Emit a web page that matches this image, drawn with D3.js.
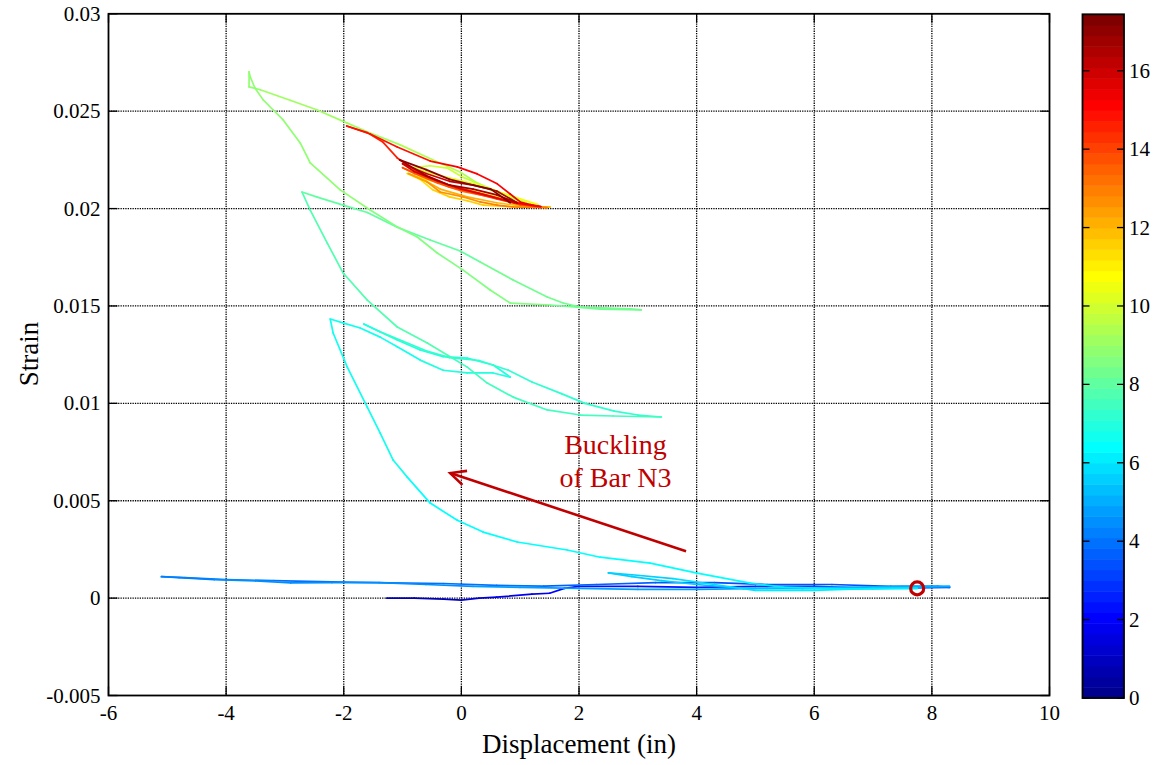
<!DOCTYPE html>
<html><head><meta charset="utf-8">
<script src="https://cdn.jsdelivr.net/npm/d3@7"></script>
<style>body{margin:0;background:#fff}svg{display:block;font-family:"Liberation Serif","Times New Roman",serif}</style>
</head><body><svg id="c" width="1159" height="765"></svg>
<script>
// ---- axes / labels ----
const xTicks = [-6,-4,-2,0,2,4,6,8,10];
const xTickLabels = ["-6","-4","-2","0","2","4","6","8","10"];
const yTicks = [-0.005,0,0.005,0.01,0.015,0.02,0.025,0.03];
const yTickLabels = ["-0.005","0","0.005","0.01","0.015","0.02","0.025","0.03"];
const cTicks = [0,2,4,6,8,10,12,14,16];
const cTickLabels = ["0","2","4","6","8","10","12","14","16"];
const xDomain = [-6,10];
const yDomain = [-0.005,0.03];
const cDomain = [0,17.44];
const xLabel = "Displacement (in)";
const yLabel = "Strain";
const annotLines = ["Buckling","of Bar N3"];
const annotPos = [[2.62,0.0074],[2.62,0.0057]];
const arrowFromTo = [[3.82,0.00241],[-0.19,0.00642]];
const markerPoint = [7.75,0.0005];

// ---- data: [displacement, strain, time] ----
const blueOut = [[-1.27,0.0000,0.5],[-0.8,0.0000,0.7],[-0.3,-0.00005,0.9],[0.0,-0.0001,1.1],[0.3,0.0000,1.3],[0.6,0.00005,1.5],[1.2,0.0002,1.8],[1.5,0.00025,1.9],[1.75,0.0005,2.0],[2.0,0.0006,2.1],[3.0,0.0006,2.3],[4.0,0.00055,2.5],[5.0,0.0006,2.7],[6.0,0.0006,2.85],[7.0,0.0005,2.95],[8.3,0.00055,3.1]];
const blueBack = [[8.1,0.0006,3.15],[7.3,0.0006,3.25],[6.3,0.0007,3.35],[5.2,0.0007,3.45],[4.3,0.0008,3.55],[3.3,0.0008,3.65],[2.3,0.0007,3.75],[1.4,0.00062,3.85],[0.6,0.00065,3.9],[-0.3,0.00075,3.95],[-1.2,0.00078,4.0],[-2.2,0.00083,4.05],[-3.2,0.0009,4.1],[-4.0,0.00095,4.15],[-4.7,0.00105,4.2],[-5.1,0.0011,4.25]];
const blueOut2 = [[-4.8,0.00105,4.3],[-4.2,0.00095,4.35],[-3.5,0.00088,4.4],[-2.9,0.00078,4.45],[-2.2,0.0008,4.5],[-1.4,0.0008,4.55],[-0.6,0.0007,4.6],[0.2,0.0006,4.65],[1.0,0.00055,4.7],[2.0,0.0005,4.75],[3.0,0.00045,4.8],[4.0,0.00045,4.85],[5.2,0.0005,4.9],[6.5,0.00055,4.95],[7.5,0.0006,5.0],[8.3,0.0006,5.05]];
const lightBack = [[7.6,0.00055,5.1],[6.8,0.0005,5.2],[5.8,0.00048,5.3],[4.8,0.0005,5.4],[4.0,0.0007,5.45],[3.4,0.0009,5.5],[2.9,0.0011,5.55],[2.5,0.0013,5.6]];
const lightOut = [[2.9,0.0012,5.65],[3.6,0.0010,5.75],[4.3,0.0007,5.85],[5.0,0.0004,5.95],[6.0,0.0004,6.05],[7.0,0.0005,6.1],[7.75,0.0005,6.15]];
const buckling = [[6.61,0.00046,6.2],[5.47,0.00056,6.25],[4.91,0.00077,6.28],[4.01,0.00128,6.32],[3.21,0.0018,6.35],[2.36,0.0021,6.38],[1.80,0.00247,6.4],[0.95,0.00288,6.43],[0.37,0.00339,6.46],[-0.07,0.0040,6.48],[-0.53,0.00488,6.5],[-0.92,0.00621,6.53],[-1.16,0.00709,6.55],[-1.38,0.00847,6.57],[-1.60,0.0098,6.6],[-1.94,0.01186,6.63],[-2.18,0.01361,6.66],[-2.23,0.01433,6.7]];
const cyanOut = [[-2.0,0.01412,6.72],[-1.72,0.01387,6.74],[-1.38,0.0134,6.76],[-1.09,0.0129,6.78],[-0.70,0.01222,6.8],[-0.31,0.0117,6.83],[0.10,0.01156,6.86],[0.54,0.01156,6.88],[0.83,0.01135,6.9]];
const cyanBack = [[0.54,0.01197,6.93],[0.1,0.01232,6.96],[-0.31,0.0124,6.98],[-0.7,0.01274,7.0],[-1.09,0.01325,7.02],[-1.38,0.01366,7.04],[-1.66,0.01407,7.06]];
const cyanOut2 = [[-1.4,0.0137,7.08],[-1.0,0.0132,7.1],[-0.6,0.0127,7.13],[-0.2,0.01235,7.16],[0.3,0.0122,7.19],[0.8,0.0117,7.22],[1.2,0.0111,7.25],[1.7,0.0105,7.28],[2.1,0.0100,7.3],[2.6,0.0096,7.32],[3.0,0.0094,7.34],[3.4,0.0093,7.36]];
const greenBack = [[2.58,0.00935,7.4],[2.02,0.0094,7.44],[1.46,0.00966,7.48],[0.88,0.01032,7.52],[0.44,0.01104,7.56],[0.10,0.01186,7.6],[-0.24,0.01248,7.63],[-0.58,0.0131,7.66],[-1.09,0.01392,7.7],[-1.60,0.0153,7.75],[-2.01,0.01669,7.8],[-2.28,0.01823,7.84],[-2.57,0.01992,7.88],[-2.71,0.02085,7.9]];
const greenOut = [[-2.45,0.02059,7.94],[-2.01,0.02018,7.98],[-1.6,0.0198,8.02],[-1.09,0.01904,8.06],[-0.53,0.01839,8.1],[-0.02,0.01782,8.14],[0.32,0.01726,8.18],[0.88,0.01633,8.22],[1.46,0.01546,8.26],[1.73,0.01515,8.28],[2.02,0.01494,8.3],[2.87,0.01485,8.34],[3.06,0.0148,8.36]];
const greenBack2 = [[2.36,0.01484,8.4],[1.51,0.01505,8.45],[0.83,0.01515,8.5],[0.49,0.01582,8.53],[0.03,0.01684,8.57],[-0.41,0.01772,8.61],[-0.75,0.01854,8.64],[-1.09,0.01906,8.67],[-1.55,0.01993,8.71],[-2.06,0.02096,8.75],[-2.57,0.02235,8.8],[-2.74,0.02337,8.83],[-3.03,0.02455,8.87],[-3.20,0.02506,8.89],[-3.37,0.02558,8.91],[-3.51,0.02619,8.93],[-3.59,0.02676,8.95],[-3.61,0.02702,8.96],[-3.61,0.02625,8.98]];
const yellowGreenOut = [[-3.42,0.0261,9.0],[-2.9,0.02555,9.05],[-2.46,0.02507,9.1],[-1.95,0.0244,9.15],[-1.6,0.02394,9.2],[-1.04,0.02327,9.26],[-0.48,0.02249,9.32],[-0.02,0.02188,9.38],[0.24,0.02136,9.44],[0.49,0.02095,9.5],[0.8,0.0206,9.56],[1.1,0.0203,9.6]];
const yellowLoop = [[0.6,0.0209,9.7],[0.03,0.0216,9.8],[-0.24,0.02208,9.9],[-0.53,0.0222,9.95],[-0.82,0.0221,10.0],[-0.5,0.0218,10.1],[-0.1,0.0215,10.2],[0.3,0.0212,10.3],[0.7,0.0208,10.4],[1.0,0.0205,10.5],[1.3,0.0202,10.6]];
const orangeLoops = [[1.0,0.0203,10.7],[0.6,0.0206,10.8],[0.2,0.0209,10.9],[-0.2,0.0212,11.0],[-0.6,0.0215,11.1],[-0.92,0.0218,11.2],
  [-0.7,0.0215,11.3],[-0.48,0.02095,11.4],[-0.2,0.0206,11.5],[0.1,0.0204,11.55],[0.37,0.02018,11.6],[0.95,0.02008,11.7],[1.51,0.02008,11.8],
  [1.1,0.0201,11.9],[0.6,0.0203,12.0],[0.1,0.0206,12.1],[-0.36,0.0210,12.2],[-0.6,0.0214,12.3],[-0.9,0.0218,12.4],
  [-0.58,0.02136,12.5],[-0.36,0.02085,12.6],[0.03,0.0206,12.7],[0.32,0.02034,12.8],[0.61,0.02018,12.85],[0.88,0.02008,12.9],[1.46,0.02005,13.0]];
const redLoops = [[1.0,0.0202,13.1],[0.5,0.0206,13.2],[0.0,0.0209,13.3],[-0.4,0.0213,13.4],[-0.8,0.0218,13.5],[-1.0,0.0221,13.6],
  [-0.6,0.0216,13.7],[-0.2,0.0211,13.8],[0.2,0.0208,13.9],[0.6,0.0205,13.95],[1.0,0.0202,14.0],[1.3,0.0201,14.1],
  [0.8,0.0204,14.2],[0.3,0.0208,14.3],[-0.2,0.0212,14.4],[-0.7,0.0218,14.5],[-1.09,0.0226,14.6],[-1.33,0.0234,14.65],[-1.6,0.0239,14.7],[-1.95,0.02424,14.8],
  [-1.55,0.02383,14.85],[-1.09,0.02316,14.9],[-0.53,0.02244,15.0],[-0.07,0.02214,15.1],[0.27,0.02178,15.15],[0.61,0.02127,15.2],[0.83,0.02075,15.25],[1.0,0.02034,15.3],[1.17,0.0202,15.35],[1.35,0.0201,15.4]];
const darkRedLoops = [[0.9,0.0203,15.5],[0.4,0.0207,15.6],[0.0,0.0210,15.7],[-0.4,0.0214,15.8],[-0.8,0.0219,15.85],[-1.0,0.0223,15.9],
  [-0.6,0.0218,16.0],[-0.2,0.0214,16.1],[0.2,0.0212,16.2],[0.6,0.0209,16.3],[0.95,0.0203,16.4],
  [0.6,0.0207,16.5],[0.2,0.0210,16.6],[-0.2,0.0212,16.7],[-0.6,0.0217,16.8],[-1.05,0.0225,16.9],
  [-0.6,0.0220,17.0],[-0.2,0.0215,17.1],[0.2,0.0212,17.2],[0.5,0.0210,17.3],[0.83,0.0203,17.4]];

const path = [].concat(blueOut, blueBack, blueOut2, lightBack, lightOut, buckling, cyanOut, cyanBack, cyanOut2,
  greenBack, greenOut, greenBack2, yellowGreenOut, yellowLoop, orangeLoops, redLoops, darkRedLoops);

// ---- MATLAB jet(64) ----
function jetMap(m){
  const n=Math.ceil(m/4), u=[];
  for(let i=1;i<=n;i++)u.push(i/n);
  for(let i=1;i<n;i++)u.push(1);
  for(let i=n;i>=1;i--)u.push(i/n);
  const J=Array.from({length:m},()=>[0,0,0]);
  const off=Math.ceil(n/2)-(m%4===1?1:0);
  u.forEach((v,k)=>{const g=off+k+1,r=g+n,b=g-n;
    if(g>=1&&g<=m)J[g-1][1]=v; if(r>=1&&r<=m)J[r-1][0]=v; if(b>=1&&b<=m)J[b-1][2]=v;});
  return J.map(a=>d3.rgb(a[0]*255,a[1]*255,a[2]*255).formatHex());
}
const cmap = jetMap(64);
const colorOf = v => cmap[Math.max(0,Math.min(63,Math.floor((v-cDomain[0])/(cDomain[1]-cDomain[0])*64)))];

const svg = d3.select("#c");
const L=108.5, R=1049.5, T=13.8, B=695.5;
const x = d3.scaleLinear().domain(xDomain).range([L,R]);
const y = d3.scaleLinear().domain(yDomain).range([B,T]);

// grid
const gGrid = svg.append("g").attr("stroke","#000").attr("stroke-width",1.3).attr("stroke-dasharray","1.3,1.1");
gGrid.selectAll(".gx").data(xTicks.filter(d=>d>xDomain[0]&&d<xDomain[1])).join("line")
  .attr("x1",d=>x(d)).attr("x2",d=>x(d)).attr("y1",T).attr("y2",B);
gGrid.selectAll(".gy").data(yTicks.filter(d=>d>yDomain[0]&&d<yDomain[1])).join("line")
  .attr("y1",d=>y(d)).attr("y2",d=>y(d)).attr("x1",L).attr("x2",R);

// data segments
const segs = d3.range(1,path.length).map(i=>[path[i-1],path[i]]);
svg.append("g").attr("fill","none").attr("stroke-width",1.7).attr("stroke-linecap","round")
  .selectAll("line").data(segs).join("line")
  .attr("x1",d=>x(d[0][0])).attr("y1",d=>y(d[0][1]))
  .attr("x2",d=>x(d[1][0])).attr("y2",d=>y(d[1][1]))
  .attr("stroke",d=>colorOf((d[0][2]+d[1][2])/2));

// axes box and ticks
const gAx = svg.append("g").attr("stroke","#000").attr("fill","none");
gAx.append("rect").attr("x",L).attr("y",T).attr("width",R-L).attr("height",B-T).attr("stroke-width",1.8);
const tl=9;
xTicks.forEach(d=>{
  gAx.append("line").attr("x1",x(d)).attr("x2",x(d)).attr("y1",B).attr("y2",B-tl).attr("stroke-width",1.3);
  gAx.append("line").attr("x1",x(d)).attr("x2",x(d)).attr("y1",T).attr("y2",T+tl).attr("stroke-width",1.3);
});
yTicks.forEach(d=>{
  gAx.append("line").attr("y1",y(d)).attr("y2",y(d)).attr("x1",L).attr("x2",L+tl).attr("stroke-width",1.3);
  gAx.append("line").attr("y1",y(d)).attr("y2",y(d)).attr("x1",R).attr("x2",R-tl).attr("stroke-width",1.3);
});
svg.append("g").selectAll("text").data(xTicks).join("text")
  .attr("x",d=>x(d)).attr("y",B+24).attr("text-anchor","middle").attr("font-size",21)
  .text((d,i)=>xTickLabels[i]);
svg.append("g").selectAll("text").data(yTicks).join("text")
  .attr("x",L-8).attr("y",d=>y(d)+7).attr("text-anchor","end").attr("font-size",21)
  .text((d,i)=>yTickLabels[i]);
svg.append("text").attr("x",(L+R)/2).attr("y",753).attr("text-anchor","middle").attr("font-size",27).text(xLabel);
svg.append("text").attr("transform","translate(38,354) rotate(-90)").attr("text-anchor","middle").attr("font-size",27).text(yLabel);

// annotation
const red="#c00000";
svg.append("g").selectAll("text").data(annotLines).join("text")
  .attr("x",(d,i)=>x(annotPos[i][0])).attr("y",(d,i)=>y(annotPos[i][1]))
  .attr("text-anchor","middle").attr("font-size",28).attr("fill",red).text(d=>d);
const ax0=x(arrowFromTo[0][0]), ay0=y(arrowFromTo[0][1]), ax1=x(arrowFromTo[1][0]), ay1=y(arrowFromTo[1][1]);
const ang=Math.atan2(ay1-ay0,ax1-ax0), hl=17, ha=0.45;
svg.append("line").attr("x1",ax0).attr("y1",ay0).attr("x2",ax1).attr("y2",ay1).attr("stroke",red).attr("stroke-width",2.6);
svg.append("path").attr("d",`M${ax1-hl*Math.cos(ang-ha)},${ay1-hl*Math.sin(ang-ha)}L${ax1},${ay1}L${ax1-hl*Math.cos(ang+ha)},${ay1-hl*Math.sin(ang+ha)}`)
  .attr("fill","none").attr("stroke",red).attr("stroke-width",2.6);
svg.append("circle").attr("cx",x(markerPoint[0])).attr("cy",y(markerPoint[1])).attr("r",6.5)
  .attr("fill","none").attr("stroke",red).attr("stroke-width",3.2);

// colorbar
const cbL=1082.5, cbR=1124, cbT=14.3, cbB=698;
const cy = d3.scaleLinear().domain(cDomain).range([cbB,cbT]);
const step=(cDomain[1]-cDomain[0])/64;
svg.append("g").selectAll("rect").data(cmap).join("rect")
  .attr("x",cbL).attr("width",cbR-cbL)
  .attr("y",(d,i)=>cy(cDomain[0]+(i+1)*step)).attr("height",(d,i)=>cy(cDomain[0]+i*step)-cy(cDomain[0]+(i+1)*step)+0.5)
  .attr("fill",d=>d);
svg.append("rect").attr("x",cbL).attr("y",cbT).attr("width",cbR-cbL).attr("height",cbB-cbT)
  .attr("fill","none").attr("stroke","#000").attr("stroke-width",1.8);
const gCb = svg.append("g").attr("stroke","#000").attr("stroke-width",1.3);
cTicks.forEach(d=>{
  gCb.append("line").attr("x1",cbL).attr("x2",cbL+7).attr("y1",cy(d)).attr("y2",cy(d));
  gCb.append("line").attr("x1",cbR).attr("x2",cbR-7).attr("y1",cy(d)).attr("y2",cy(d));
});
svg.append("g").selectAll("text").data(cTicks).join("text")
  .attr("x",cbR+5).attr("y",d=>cy(d)+7).attr("font-size",21).text((d,i)=>cTickLabels[i]);
</script></body></html>
